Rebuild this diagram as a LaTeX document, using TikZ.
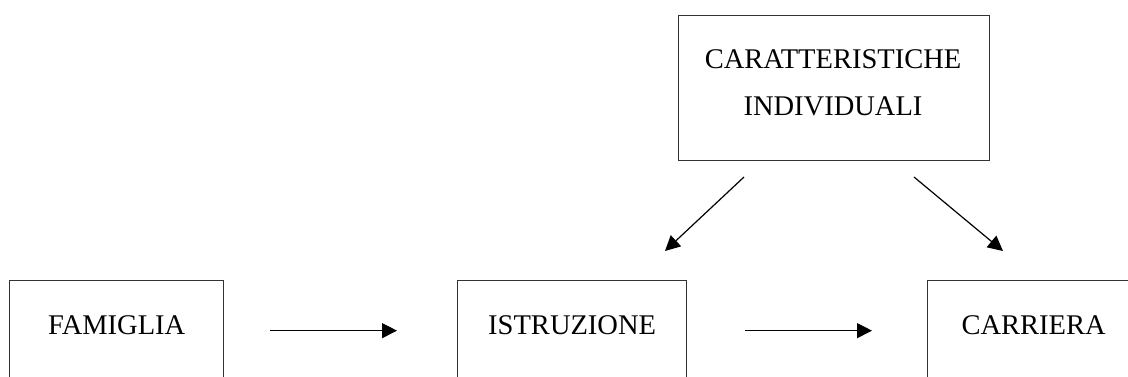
\documentclass[tikz,border=0pt]{standalone}
\usepackage{fontspec}
\setmainfont{Liberation Serif}
\usetikzlibrary{arrows.meta}
\begin{document}
\begin{tikzpicture}[x=1pt,y=-1pt,
  box/.style={draw=black!80, line width=1.3pt, inner sep=0pt, anchor=north west},
  lbl/.style={font=\fontsize{28.5}{47}\selectfont, text=black, inner sep=0pt},
  arr/.style={draw=black, line width=1.2pt, -{Triangle[length=15pt,width=15pt]}}]
\useasboundingbox (0,0) rectangle (1128,376);
\clip (0,0) rectangle (1128,376);
% boxes
\node[box, minimum width=311pt, minimum height=145pt] (car) at (678,15) {};
\node[box, minimum width=214pt, minimum height=100pt] (fam) at (9,280) {};
\node[box, minimum width=229pt, minimum height=100pt] (ist) at (457,280) {};
\node[box, minimum width=212pt, minimum height=100pt] (carr) at (927,280) {};
% labels
\node[lbl, anchor=base, align=center] (tcar) at (833,115) {CARATTERISTICHE\\INDIVIDUALI};
\node[lbl, anchor=base] (tfam) at (fam.north |- 0,334) {FAMIGLIA};
\node[lbl, anchor=base] (tist) at (ist.north |- 0,334) {ISTRUZIONE};
\node[lbl, anchor=base] (tcarr) at (carr.north |- 0,334) {CARRIERA};
% arrow end points
\coordinate (d1s) at (744,177);
\coordinate (d1e) at (665,251);
\coordinate (d2s) at (914,177);
\coordinate (d2e) at (1003,251);
% connectors
\draw[arr, shorten <=46pt, shorten >=60pt] (fam.east) -- (ist.west);
\draw[arr, shorten <=58pt, shorten >=55pt] (ist.east) -- (carr.west);
\draw[arr] (d1s) -- (d1e);
\draw[arr] (d2s) -- (d2e);
\end{tikzpicture}
\end{document}
